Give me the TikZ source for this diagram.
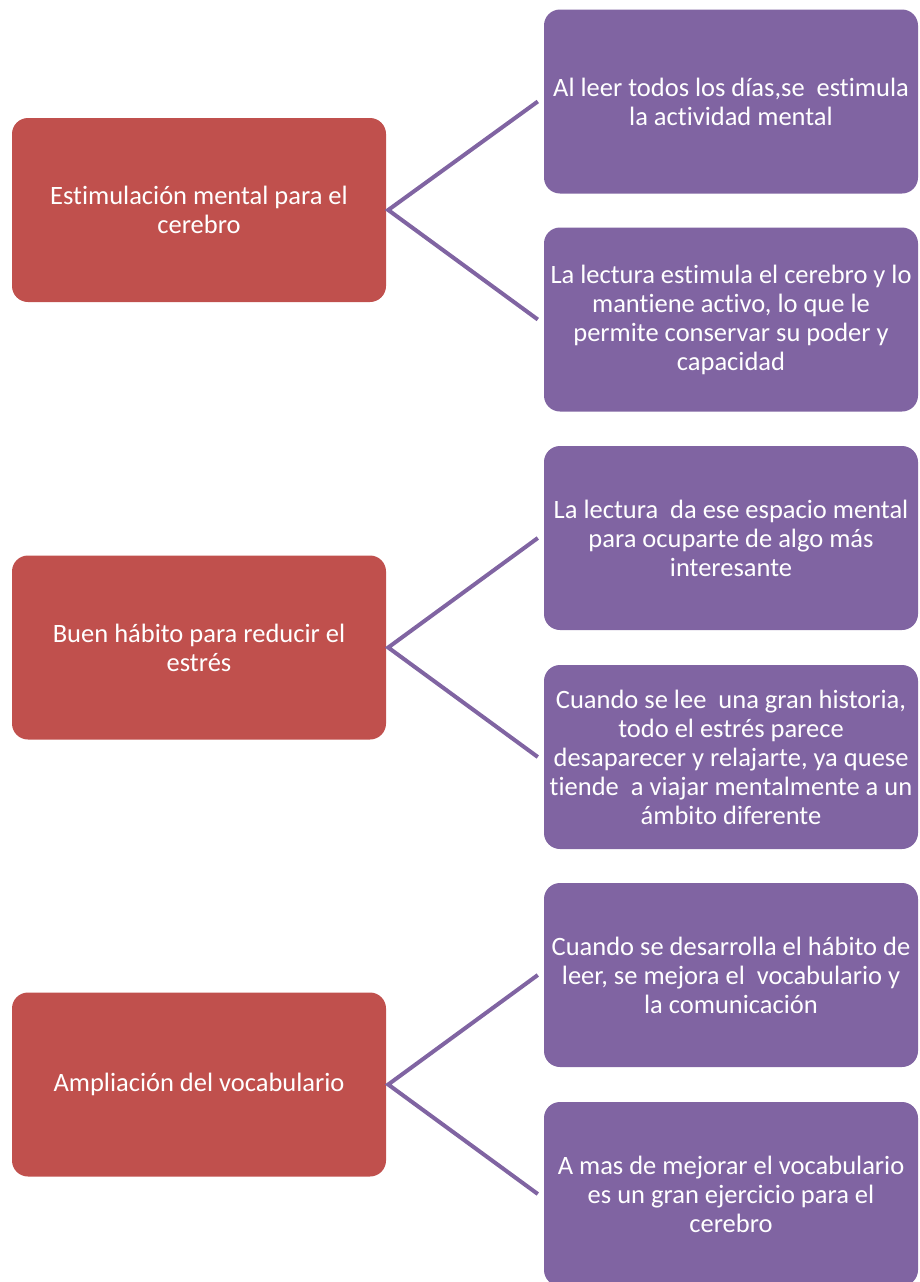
\documentclass[tikz,border=0pt]{standalone}
\usepackage{fontspec}
\setmainfont{Carlito}[Ligatures=NoCommon]
\usetikzlibrary{calc}
\definecolor{redbox}{HTML}{C0504D}
\definecolor{purplebox}{HTML}{8064A2}
\tikzset{
  mainbox/.style={rectangle, rounded corners=16pt, fill=redbox, text=white,
    minimum width=374pt, minimum height=184pt, align=center, inner sep=0pt,
    font=\fontsize{26.5}{29}\selectfont},
  subbox/.style={rectangle, rounded corners=16pt, fill=purplebox, text=white,
    minimum width=374pt, minimum height=184pt, align=center, inner sep=0pt,
    font=\fontsize{26.5}{29}\selectfont},
  link/.style={draw=purplebox, line width=4pt, line join=miter}
}
\begin{document}
\begin{tikzpicture}[x=1pt,y=-1pt]
\useasboundingbox (0,0) rectangle (920,1282);
\begin{scope}
\clip (0,0) rectangle (920,1282);
% group 1
\node[mainbox] (r1) at (199,210) {Estimulación mental para el\\cerebro};
\node[subbox] (p1) at (731,101.5) {Al leer todos los días,se \ estimula\\la actividad mental};
\node[subbox] (p2) at (731,319.5) {La lectura estimula el cerebro y lo\\mantiene activo, lo que le\\permite conservar su poder y\\capacidad};
% group 2
\node[mainbox] (r2) at (199,647.5) {Buen hábito para reducir el\\estrés};
\node[subbox] (p3) at (731,538) {La lectura \ da ese espacio mental\\para ocuparte de algo más\\interesante};
\node[subbox] (p4) at (731,757) {Cuando se lee \ una gran historia,\\todo el estrés parece\\desaparecer y relajarte, ya quese\\tiende \ a viajar mentalmente a un\\ámbito diferente};
% group 3
\node[mainbox] (r3) at (199,1084.5) {Ampliación del vocabulario};
\node[subbox] (p5) at (731,975) {Cuando se desarrolla el hábito de\\leer, se mejora el \ vocabulario y\\la comunicación};
\node[subbox] (p6) at (731,1194) {A mas de mejorar el vocabulario\\es un gran ejercicio para el\\cerebro};
\end{scope}
% connectors
\coordinate (v1) at ($(r1.east)+(2,0)$);
\coordinate (v2) at ($(r2.east)+(2,0)$);
\coordinate (v3) at ($(r3.east)+(2,0)$);
\draw[link] ($(p1.west)+(-6,0)$) -- (v1) -- ($(p2.west)+(-6,0)$);
\draw[link] ($(p3.west)+(-6,0)$) -- (v2) -- ($(p4.west)+(-6,0)$);
\draw[link] ($(p5.west)+(-6,0)$) -- (v3) -- ($(p6.west)+(-6,0)$);
\end{tikzpicture}
\end{document}
